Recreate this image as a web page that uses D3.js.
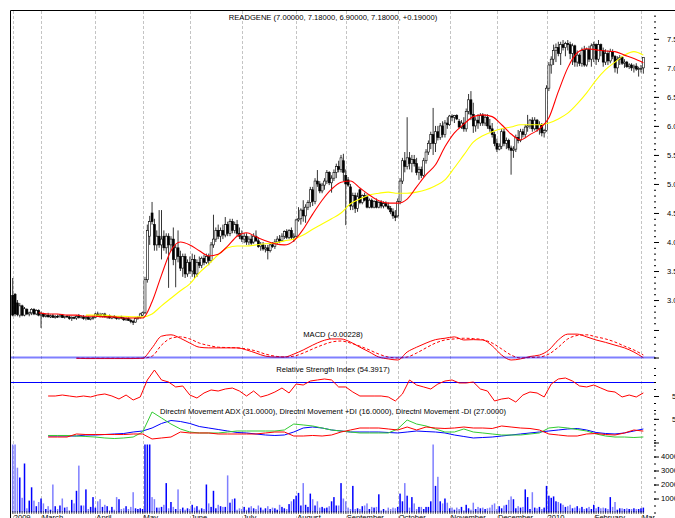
<!DOCTYPE html>
<html>
<head>
<meta charset="utf-8">
<script src="https://cdn.jsdelivr.net/npm/d3@7"></script>
<style>
  body { margin: 0; background: #fff; }
  svg { display: block; font-family: "Liberation Sans", Arial, sans-serif; }
</style>
</head>
<body>
<div id="chart"></div>
<script>
// ---- data ----
const monthLabels = ["2009", "March", "April", "May", "June", "July", "August", "September",
  "October", "November", "December", "2010", "February", "March"];
const monthDays = [12, 23, 20, 20, 22, 23, 21, 22, 22, 20, 21, 20, 20, 2];

// daily [open, high, low, close]
const ohlc = [
  // Feb 2009
  [3.08,3.38,2.72,2.74],[3.10,3.12,2.72,2.76],[2.95,3.00,2.72,2.75],[2.74,2.95,2.70,2.90],[2.90,2.92,2.72,2.74],[2.74,2.88,2.72,2.85],[2.84,2.86,2.74,2.76],[2.76,2.80,2.72,2.78],[2.78,2.86,2.74,2.84],[2.84,2.86,2.74,2.76],[2.76,2.84,2.74,2.82],[2.82,2.84,2.72,2.74],
  // Mar
  [2.74,2.80,2.52,2.76],[2.76,2.78,2.70,2.72],[2.72,2.76,2.70,2.74],[2.74,2.78,2.70,2.71],[2.71,2.75,2.69,2.73],[2.73,2.76,2.70,2.70],[2.70,2.74,2.68,2.72],[2.72,2.75,2.69,2.71],[2.71,2.76,2.70,2.74],[2.74,2.76,2.69,2.70],[2.70,2.73,2.68,2.72],[2.72,2.74,2.70,2.71],[2.71,2.73,2.66,2.68],[2.68,2.72,2.64,2.70],[2.70,2.72,2.67,2.69],[2.69,2.74,2.66,2.72],[2.72,2.76,2.68,2.70],[2.70,2.73,2.68,2.71],[2.71,2.74,2.66,2.68],[2.68,2.72,2.65,2.70],[2.70,2.72,2.66,2.67],[2.67,2.70,2.65,2.69],[2.69,2.73,2.66,2.70],
  // Apr
  [2.70,2.78,2.69,2.76],[2.76,2.80,2.72,2.74],[2.74,2.78,2.70,2.72],[2.72,2.77,2.70,2.76],[2.76,2.78,2.70,2.71],[2.71,2.74,2.68,2.73],[2.73,2.75,2.68,2.69],[2.69,2.73,2.67,2.72],[2.72,2.74,2.68,2.70],[2.70,2.72,2.66,2.68],[2.68,2.72,2.66,2.71],[2.71,2.73,2.67,2.69],[2.69,2.71,2.64,2.66],[2.66,2.70,2.64,2.68],[2.68,2.70,2.64,2.65],[2.65,2.68,2.60,2.63],[2.63,2.66,2.57,2.62],[2.62,2.70,2.61,2.68],[2.68,2.72,2.66,2.70],[2.70,2.78,2.68,2.76],
  // May
  [2.74,2.80,2.72,2.78],[2.78,3.40,2.76,3.35],[3.35,4.30,3.30,4.20],[4.10,4.45,3.95,4.35],[4.50,4.69,4.30,4.35],[4.30,4.40,3.85,3.95],[3.95,4.20,3.85,4.10],[4.10,4.55,3.90,3.95],[3.95,4.55,3.70,4.05],[4.10,4.20,3.85,3.90],[3.90,4.15,3.80,4.10],[4.10,4.15,3.21,3.95],[3.95,4.10,3.85,4.05],[4.05,4.25,3.60,3.70],[3.70,3.95,3.22,3.90],[3.90,4.20,3.65,3.75],[3.75,3.85,3.50,3.55],[3.55,3.80,3.40,3.75],[3.75,3.80,3.38,3.45],[3.45,3.70,3.40,3.65],
  // Jun
  [3.65,3.75,3.45,3.50],[3.50,3.80,3.40,3.70],[3.70,3.78,3.38,3.45],[3.45,3.70,3.40,3.65],[3.65,3.75,3.55,3.60],[3.60,3.75,3.55,3.72],[3.72,3.78,3.60,3.65],[3.65,3.80,3.62,3.75],[3.75,3.80,3.60,3.68],[3.68,4.00,3.65,3.95],[3.95,4.47,3.90,4.05],[4.05,4.25,4.00,4.20],[4.20,4.30,4.05,4.10],[4.10,4.25,4.00,4.20],[4.20,4.30,4.05,4.12],[4.12,4.43,4.08,4.30],[4.30,4.35,4.10,4.15],[4.15,4.40,4.10,4.35],[4.35,4.40,4.15,4.20],[4.20,4.35,4.15,4.30],[4.30,4.38,4.10,4.15],[4.15,4.25,4.05,4.10],
  // Jul
  [4.10,4.20,4.00,4.05],[4.05,4.15,3.98,4.10],[4.10,4.15,3.95,4.00],[4.00,4.10,3.95,4.05],[4.05,4.12,3.95,3.98],[4.00,4.15,3.97,4.10],[4.10,4.20,4.00,4.02],[4.02,4.08,3.90,3.92],[3.92,4.00,3.85,3.95],[3.95,4.00,3.85,3.88],[3.88,3.95,3.82,3.90],[3.90,3.95,3.70,3.85],[3.85,3.98,3.82,3.95],[3.95,4.00,3.90,3.92],[3.92,4.05,3.88,4.00],[4.00,4.10,3.95,4.05],[4.05,4.12,3.98,4.02],[4.02,4.15,4.00,4.10],[4.10,4.20,4.05,4.18],[4.18,4.22,4.05,4.08],[4.08,4.22,4.05,4.20],[4.20,4.25,4.05,4.08],[4.08,4.15,4.00,4.10],
  // Aug
  [4.10,4.40,4.08,4.38],[4.38,4.60,4.35,4.40],[4.40,4.58,4.30,4.55],[4.55,4.72,4.35,4.45],[4.45,4.65,4.33,4.60],[4.60,4.72,4.55,4.68],[4.68,4.95,4.60,4.90],[4.90,4.95,4.62,4.70],[4.70,5.10,4.65,5.05],[5.05,5.24,4.95,5.00],[5.00,5.05,4.84,4.88],[4.88,5.02,4.84,4.98],[4.98,5.10,4.90,5.05],[5.05,5.24,5.00,5.20],[5.20,5.22,4.98,5.02],[5.02,5.15,4.85,5.10],[5.10,5.25,5.05,5.20],[5.20,5.35,5.10,5.30],[5.30,5.40,5.20,5.25],[5.25,5.50,5.20,5.45],[5.40,5.52,5.05,5.20],
  // Sep
  [5.15,5.25,4.29,5.00],[5.07,5.12,4.95,4.98],[4.95,5.00,4.55,4.62],[4.62,4.85,4.55,4.80],[4.80,4.85,4.50,4.58],[4.58,4.85,4.52,4.78],[4.90,4.92,4.65,4.68],[4.68,4.82,4.65,4.80],[4.80,4.85,4.70,4.72],[4.78,4.82,4.58,4.60],[4.60,4.75,4.58,4.72],[4.72,4.75,4.58,4.60],[4.60,4.72,4.58,4.70],[4.70,4.75,4.58,4.60],[4.60,4.70,4.58,4.68],[4.68,4.72,4.58,4.62],[4.62,4.70,4.58,4.66],[4.66,4.70,4.60,4.62],[4.62,4.68,4.55,4.58],[4.58,4.62,4.48,4.52],[4.52,4.58,4.40,4.45],[4.45,4.55,4.36,4.42],
  // Oct
  [4.45,4.75,4.42,4.70],[4.70,5.10,4.65,5.05],[5.05,5.45,5.00,5.40],[5.40,5.55,5.20,5.30],[5.30,6.15,5.25,5.45],[5.45,5.55,5.25,5.35],[5.35,5.50,5.20,5.42],[5.42,5.50,5.30,5.35],[5.35,5.45,5.15,5.20],[5.20,5.30,5.07,5.25],[5.25,5.30,5.10,5.15],[5.15,5.45,5.12,5.40],[5.40,5.60,5.35,5.55],[5.55,5.75,5.50,5.70],[5.70,5.90,5.60,5.85],[5.85,6.31,5.50,5.70],[5.70,6.00,5.55,5.90],[5.90,6.00,5.75,5.80],[5.80,6.05,5.76,6.00],[6.00,6.08,5.80,5.85],[5.85,6.10,5.80,6.05],[6.05,6.15,5.95,6.02],
  // Nov
  [6.02,6.19,6.00,6.17],[6.17,6.20,6.08,6.15],[6.15,6.19,6.05,6.18],[6.18,6.20,6.10,6.12],[6.08,6.12,5.96,5.98],[5.98,6.10,5.95,6.05],[6.05,6.15,5.90,5.95],[5.95,6.30,5.90,6.25],[6.25,6.55,6.20,6.45],[6.45,6.60,6.10,6.20],[6.20,6.40,5.88,6.00],[6.00,6.15,5.90,6.10],[6.10,6.20,5.95,6.05],[6.05,6.22,6.00,6.18],[6.18,6.22,6.00,6.05],[6.05,6.20,6.00,6.15],[6.15,6.20,5.95,6.00],[6.00,6.12,5.90,5.95],[5.95,6.05,5.80,5.85],[5.85,5.90,5.65,5.70],
  // Dec
  [5.70,5.78,5.55,5.60],[5.60,5.70,5.58,5.65],[5.65,5.95,5.60,5.90],[5.90,5.95,5.65,5.70],[5.70,5.80,5.60,5.75],[5.75,5.78,5.58,5.62],[5.62,5.66,5.16,5.58],[5.58,5.65,5.45,5.60],[5.60,5.85,5.55,5.80],[5.80,5.93,5.70,5.75],[5.75,5.95,5.72,5.90],[5.90,5.95,5.80,5.85],[5.85,6.02,5.80,5.98],[5.98,6.19,5.90,6.00],[6.00,6.12,5.95,6.10],[6.10,6.15,5.90,5.95],[5.95,6.15,5.92,6.10],[6.10,6.12,5.90,5.95],[5.95,6.08,5.85,6.02],[6.02,6.05,5.82,5.88],[5.88,5.95,5.80,5.92],
  // Jan 2010
  [5.92,6.70,5.90,6.65],[6.65,7.10,6.60,7.05],[7.05,7.20,6.90,7.15],[7.15,7.40,7.05,7.30],[7.30,7.42,7.10,7.35],[7.35,7.45,7.20,7.25],[7.25,7.45,7.05,7.40],[7.40,7.48,7.30,7.35],[7.35,7.45,7.20,7.42],[7.42,7.48,7.30,7.40],[7.40,7.45,7.15,7.25],[7.25,7.42,7.05,7.38],[7.38,7.40,7.02,7.10],[7.10,7.30,7.02,7.22],[7.22,7.25,7.03,7.08],[7.08,7.35,7.02,7.30],[7.30,7.38,7.02,7.05],[7.05,7.35,7.02,7.32],[7.32,7.38,7.10,7.15],[7.15,7.42,7.02,7.38],
  // Feb
  [7.38,7.45,7.10,7.40],[7.40,7.42,7.05,7.15],[7.15,7.48,7.10,7.40],[7.40,7.42,7.20,7.30],[7.30,7.35,7.02,7.10],[7.10,7.32,7.05,7.25],[7.25,7.30,7.05,7.12],[7.12,7.33,7.08,7.28],[7.28,7.32,7.15,7.20],[7.20,7.22,6.92,7.00],[7.00,7.20,6.90,7.15],[7.15,7.22,7.05,7.18],[7.18,7.20,7.05,7.08],[7.08,7.15,7.00,7.10],[7.10,7.12,7.00,7.02],[7.02,7.08,6.98,7.05],[7.05,7.08,6.95,7.00],[7.00,7.06,6.92,7.03],[7.03,7.08,6.95,6.98],[6.98,7.02,6.85,6.99],
  // Mar
  [6.99,7.05,6.92,6.99],[7.00,7.18,6.90,7.18]
];

const volume = [
  6500,6500,3200,2500,1050,3500,300,850,1800,850,
  450,750,1000,650,250,450,200,2000,450,250,
  500,1000,350,400,150,900,650,1550,3350,500,
  500,1650,250,400,1100,350,800,950,400,550,
  450,150,400,200,1100,950,250,300,450,250,
  400,1450,300,250,300,250,6500,6500,6500,1100,
  950,350,350,400,550,2100,300,750,400,250,
  1650,250,350,200,300,250,550,350,450,200,
  300,250,2000,650,400,1550,300,550,450,400,
  400,2650,700,950,1000,200,300,250,400,200,
  350,450,300,250,500,350,200,300,450,250,
  350,300,200,550,400,300,250,600,800,950,
  1200,1400,500,2100,550,400,1350,950,500,800,
  350,400,300,350,450,800,1100,500,500,2100,
  1000,800,350,250,1900,250,300,250,450,500,
  650,250,400,350,400,1300,150,250,150,350,
  250,350,300,400,1350,800,2100,1200,350,1100,
  650,250,400,400,250,400,400,800,6500,1900,
  2550,800,650,1000,700,300,350,200,350,250,
  400,150,550,300,200,700,250,400,300,350,
  250,300,350,550,650,250,450,300,500,550,
  900,1150,950,300,450,350,400,1650,1100,250,
  1450,350,300,400,250,350,1900,1200,1050,1150,
  800,750,650,550,400,450,550,300,350,450,
  300,400,250,300,400,250,550,300,400,300,
  350,300,250,1100,400,750,200,300,300,250,
  300,250,250,300,250,250,300,350
];

// indicator lines, one reading every `step` trading days from `start`
const maFastStart = 11, maFastStep = 4;
const maFast = [2.78,2.76,2.76,2.74,2.74,2.72,2.72,2.71,2.71,2.69,2.69,2.69,2.97,3.43,3.85,4.00,3.95,3.85,3.76,3.79,3.93,4.10,4.16,4.09,4.02,3.97,3.95,4.02,4.22,4.48,4.72,4.91,5.03,5.05,4.93,4.81,4.71,4.67,4.67,4.74,4.95,5.16,5.33,5.64,5.88,6.03,6.16,6.19,6.16,6.02,5.86,5.76,5.85,5.95,6.14,6.59,7.00,7.26,7.33,7.31,7.29,7.28,7.22,7.16,7.09];
const maSlowStart = 31, maSlowStep = 4;
const maSlow = [2.74,2.74,2.74,2.72,2.72,2.71,2.71,2.76,2.90,3.03,3.16,3.28,3.47,3.62,3.78,3.90,3.93,3.93,3.95,3.97,3.98,4.02,4.05,4.12,4.22,4.31,4.40,4.50,4.66,4.74,4.81,4.84,4.86,4.84,4.84,4.86,4.90,4.97,5.07,5.28,5.50,5.72,5.83,5.90,5.95,5.98,6.02,6.02,6.02,6.05,6.12,6.22,6.38,6.57,6.79,6.97,7.10,7.22,7.28,7.22];

const macdStart = 27, macdStep = 4;
const macd = [-0.01,-0.015,-0.015,-0.015,-0.015,-0.015,-0.015,-0.01,0.14,0.31,0.33,0.28,0.21,0.15,0.14,0.14,0.14,0.14,0.11,0.065,0.02,0.007,0.007,0.05,0.11,0.18,0.24,0.27,0.27,0.225,0.15,0.08,0.007,-0.02,-0.036,0.08,0.15,0.21,0.26,0.28,0.30,0.255,0.26,0.255,0.17,0.036,-0.036,-0.02,0.015,0.036,0.11,0.255,0.34,0.34,0.30,0.255,0.22,0.18,0.14,0.08,-0.002];
const macdSignal = [-0.01,-0.01,-0.01,-0.01,-0.01,-0.01,-0.01,-0.01,0.02,0.18,0.28,0.30,0.27,0.21,0.175,0.15,0.145,0.14,0.125,0.095,0.05,0.02,0.007,0.02,0.065,0.125,0.18,0.225,0.24,0.21,0.165,0.11,0.05,0.007,-0.007,0.007,0.065,0.14,0.21,0.255,0.27,0.28,0.275,0.26,0.21,0.125,0.036,-0.007,0,0.007,0.05,0.15,0.27,0.32,0.33,0.30,0.27,0.225,0.165,0.11,0.036];

const rsiStart = 15, rsiStep = 3;
const rsi = [50,50,51.4,50,48.6,50,48.6,51.4,52.9,50,45.7,51.4,44.3,48.6,72.9,87.1,72.9,70,62.9,64.3,51.4,47.1,54.3,58.6,57.1,60,61.4,57.1,50,57.1,48.6,51.4,55.7,61.4,54.3,67.1,65.7,71.4,72.9,74.3,72.9,62.9,62.9,55.7,50,50,50,50,48.6,42.9,52.9,72.9,65.7,62.9,60,67.1,71.4,72.9,68.6,68.6,70,60,57.1,42.9,45.7,47.1,41.4,51.4,55.7,54.3,48.6,67.1,74.3,75.7,71.4,64.3,62.9,65.7,61.4,57.1,55.7,48.6,51.4,48.6,54.4];
const rsiLevel = 70;

const dmiStart = 15, dmiStep = 4;
const adx = [17.8,17.8,17.8,17.8,19.7,19.7,20.6,21.6,22.5,25.3,27.2,32.8,41.3,46.9,45.0,41.3,35.6,32.8,30.0,27.2,24.4,23.5,21.6,19.7,18.8,19.7,25.3,32.8,34.7,32.8,29.1,27.2,25.3,25.3,25.3,25.3,24.4,23.5,25.3,27.2,26.2,25.3,23.5,19.7,16.9,14.1,15.0,15.9,17.8,19.7,21.6,23.5,25.3,27.2,29.1,31.0,31.9,29.1,24.4,22.5,21.6,23.5,27.2,31.0];
const plusDI = [18.8,18.8,18.8,17.8,16.9,15.9,14.1,13.1,14.1,15.9,25.3,62.9,51.6,40.3,31.0,25.3,23.5,23.5,23.5,25.3,27.2,27.2,27.2,27.2,27.2,29.1,40.3,38.5,36.6,32.8,29.1,27.2,25.3,23.5,23.5,23.5,23.5,31.0,47.8,40.3,36.6,31.0,25.3,25.3,31.0,25.3,23.5,21.6,19.7,19.7,19.7,21.6,23.5,32.8,34.7,32.8,30.0,27.2,21.6,17.8,15.9,15.9,15.0,16.0];
const minusDI = [15.9,15.9,15.9,21.6,20.6,20.6,20.6,20.6,20.6,21.6,21.6,12.2,14.1,15.9,25.3,23.5,23.5,23.5,21.6,21.6,21.6,21.6,21.6,23.5,25.3,25.3,17.8,17.8,18.8,17.8,19.7,25.3,29.1,32.8,32.8,32.8,31.0,29.1,34.7,29.1,34.7,32.8,31.9,32.8,34.7,32.8,32.8,31.9,36.6,34.7,32.8,31.9,29.1,21.6,19.7,17.8,17.8,21.6,22.5,20.6,19.7,23.5,29.1,27.0];

const priceTicks = [3, 3.5, 4, 4.5, 5, 5.5, 6, 6.5, 7, 7.5];
const volumeTicks = [1000, 2000, 3000, 4000, 5000];

const priceTitle = "READGENE (7.00000, 7.18000, 6.90000, 7.18000, +0.19000)";
const macdTitle = "MACD (-0.00228)";
const rsiTitle = "Relative Strength Index (54.3917)";
const dmiTitle = "Directnl Movement ADX (31.0000), Directnl Movement +DI (16.0000), Directnl Movement -DI (27.0000)";

// ---- layout ----
const W = 675, H = 518;
const plotL = 11, plotR = 655, plotT = 11;
const axisX = 654;

const svg = d3.select("#chart").append("svg")
    .attr("width", W)
    .attr("height", H);

const defs = svg.append("defs");
defs.append("clipPath").attr("id", "plotClip")
    .append("rect").attr("x", plotL).attr("y", plotT).attr("width", plotR - plotL).attr("height", H - plotT);
defs.append("clipPath").attr("id", "volClip")
    .append("rect").attr("x", plotL).attr("y", 444.5).attr("width", plotR - plotL).attr("height", H - 444.5);

const N = ohlc.length;
const x = d3.scaleLinear().domain([0, N - 1]).range([12.7, 12.7 + 2.362 * (N - 1)]);

const yP = d3.scaleLinear().domain([2.57, 7.98]).range([325, 11]);
const yM = d3.scaleLinear().domain([-0.065, 0.458]).range([362, 326]);
const yR = d3.scaleLinear().domain([25, 90]).range([413.5, 368]);
const yD = d3.scaleLinear().domain([0, 65]).range([445.5, 410.85]);
const yV = d3.scaleLinear().domain([0, 5000]).range([512.5, 442.5]);

const monthStart = Array.from(d3.cumsum(monthDays)).map((c, k) => c - monthDays[k]);

// vertical month gridlines
svg.append("g")
    .selectAll("line")
    .data(monthStart)
    .join("line")
    .attr("x1", d => Math.round(x(d)) + 0.5)
    .attr("x2", d => Math.round(x(d)) + 0.5)
    .attr("y1", plotT)
    .attr("y2", H)
    .attr("stroke", "#c4c4c4")
    .attr("stroke-dasharray", "3,2");

// frame
svg.append("line").attr("x1", plotL - 0.5).attr("x2", W).attr("y1", plotT - 0.5).attr("y2", plotT - 0.5)
    .attr("stroke", "#000");
svg.append("line").attr("x1", plotL - 0.5).attr("x2", plotL - 0.5).attr("y1", plotT - 0.5).attr("y2", H)
    .attr("stroke", "#000");

// ---- price panel ----
const candles = svg.append("g").attr("clip-path", "url(#plotClip)");
candles.selectAll("line")
    .data(ohlc)
    .join("line")
    .attr("x1", (d, i) => x(i))
    .attr("x2", (d, i) => x(i))
    .attr("y1", d => yP(d[1]))
    .attr("y2", d => yP(d[2]))
    .attr("stroke", "#000")
    .attr("stroke-width", 0.8);
candles.selectAll("rect")
    .data(ohlc)
    .join("rect")
    .attr("x", (d, i) => x(i) - 1)
    .attr("width", 2)
    .attr("y", d => yP(Math.max(d[0], d[3])))
    .attr("height", d => Math.max(0.8, Math.abs(yP(d[0]) - yP(d[3]))))
    .attr("fill", d => d[3] >= d[0] ? "#fff" : "#000")
    .attr("stroke", "#000")
    .attr("stroke-width", 0.6);

function stepLine(start, step, yScale, curve) {
    return d3.line()
        .x((d, k) => x(start + k * step))
        .y(d => yScale(d))
        .curve(curve || d3.curveLinear);
}

svg.append("path").datum(maSlow)
    .attr("d", stepLine(maSlowStart, maSlowStep, yP, d3.curveMonotoneX))
    .attr("fill", "none").attr("stroke", "#ffff00").attr("stroke-width", 1.1);
svg.append("path").datum(maFast)
    .attr("d", stepLine(maFastStart, maFastStep, yP, d3.curveMonotoneX))
    .attr("fill", "none").attr("stroke", "#ff0000").attr("stroke-width", 1.1);

// ---- MACD panel ----
svg.append("path").datum(macdSignal)
    .attr("d", stepLine(macdStart, macdStep, yM, d3.curveMonotoneX))
    .attr("fill", "none").attr("stroke", "#ff0000").attr("stroke-width", 1)
    .attr("stroke-dasharray", "3,2");
svg.append("path").datum(macd)
    .attr("d", stepLine(macdStart, macdStep, yM, d3.curveMonotoneX))
    .attr("fill", "none").attr("stroke", "#ff0000").attr("stroke-width", 1);
svg.append("line")
    .attr("x1", plotL).attr("x2", plotR)
    .attr("y1", yM(0)).attr("y2", yM(0))
    .attr("stroke", "#0000ff").attr("stroke-opacity", 0.5).attr("stroke-width", 2);

// ---- RSI panel ----
svg.append("line")
    .attr("x1", plotL).attr("x2", plotR)
    .attr("y1", Math.round(yR(rsiLevel)) + 0.5).attr("y2", Math.round(yR(rsiLevel)) + 0.5)
    .attr("stroke", "#0000ff").attr("stroke-width", 1.2);
svg.append("path").datum(rsi)
    .attr("d", stepLine(rsiStart, rsiStep, yR))
    .attr("fill", "none").attr("stroke", "#ff0000").attr("stroke-width", 1);

// ---- DMI panel ----
[[adx, "#0000ff"], [plusDI, "#33cc33"], [minusDI, "#ff0000"]].forEach(([series, color]) => {
    svg.append("path").datum(series)
        .attr("d", stepLine(dmiStart, dmiStep, yD))
        .attr("fill", "none").attr("stroke", color).attr("stroke-width", 1);
});

// ---- volume ----
svg.append("g").attr("clip-path", "url(#volClip)")
    .selectAll("rect")
    .data(volume)
    .join("rect")
    .attr("x", (d, i) => x(i) - 0.75)
    .attr("width", 1.5)
    .attr("y", d => yV(d))
    .attr("height", d => yV(0) - yV(d))
    .attr("fill", (d, i) => ohlc[i][3] >= ohlc[i][0] ? "#0000ff" : "#7f7fff");

// daily ticks along the bottom
svg.append("g")
    .selectAll("line")
    .data(ohlc)
    .join("line")
    .attr("x1", (d, i) => x(i))
    .attr("x2", (d, i) => x(i))
    .attr("y1", 511)
    .attr("y2", 514)
    .attr("stroke", "#000")
    .attr("stroke-width", 0.6);

// month labels (the bottom edge of the picture cuts them, as in the original)
svg.append("g").attr("clip-path", "url(#plotClip)")
    .selectAll("text")
    .data(monthLabels)
    .join("text")
    .attr("x", (d, k) => x(monthStart[k]) + 1)
    .attr("y", 519.5)
    .attr("font-size", 7.6)
    .attr("fill", "#000")
    .text(d => d);

// ---- right axes ----
function rightAxis(scale, minor, major, labelFn, pad) {
    const g = svg.append("g").attr("transform", `translate(${axisX},0)`);
    g.append("g")
        .call(d3.axisRight(scale).tickValues(minor).tickSize(2).tickFormat(""))
        .call(a => a.select(".domain").remove());
    g.append("g")
        .call(d3.axisRight(scale).tickValues(major).tickSize(5).tickPadding(pad).tickFormat(labelFn))
        .call(a => a.select(".domain").remove())
        .call(a => a.selectAll("text")
            .attr("font-size", 7.6)
            .attr("font-family", '"Liberation Sans", Arial, sans-serif')
            .attr("text-anchor", "start"));
    g.selectAll("line").attr("stroke", "#000");
}

rightAxis(yP, yP.ticks(54), priceTicks, d3.format(".1f"), 8);
rightAxis(yM, yM.ticks(5), [0, 0.4], () => "", 8);
rightAxis(yR, yR.ticks(7), [50], d => d, 13);
rightAxis(yD, yD.ticks(6), [50], d => d, 13);
rightAxis(yV, yV.ticks(10), volumeTicks, d => d < 5000 ? d : "", 2);

// ---- panel titles ----
const titleX = (plotL + plotR) / 2;
[[priceTitle, 20], [macdTitle, 337], [rsiTitle, 372], [dmiTitle, 414]].forEach(([t, y]) => {
    svg.append("text")
        .attr("x", titleX)
        .attr("y", y)
        .attr("text-anchor", "middle")
        .attr("font-size", 7.6)
        .attr("fill", "#000")
        .text(t);
});
</script>
</body>
</html>
